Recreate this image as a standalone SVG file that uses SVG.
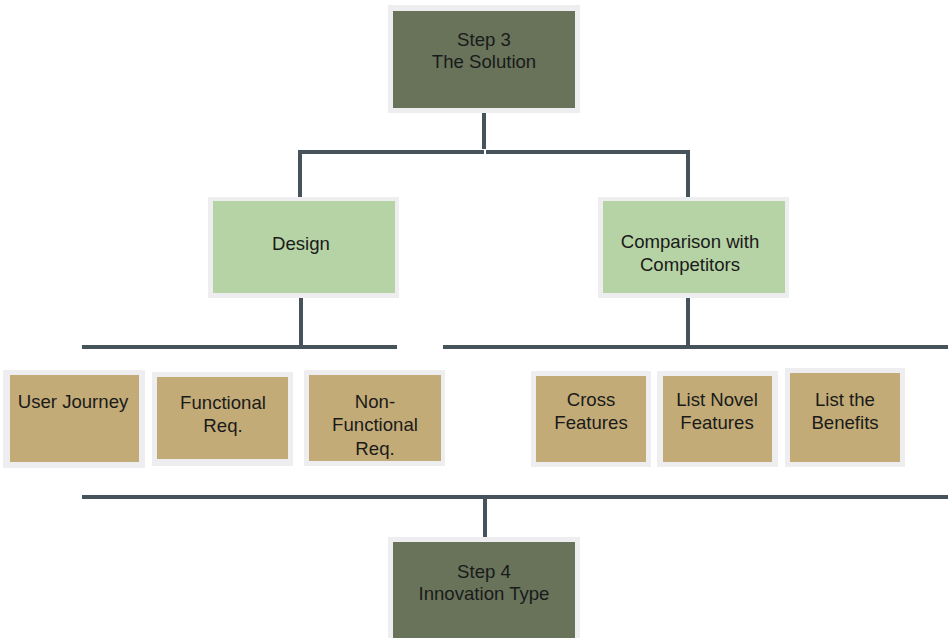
<svg xmlns="http://www.w3.org/2000/svg" width="948" height="638" viewBox="0 0 948 638">
  <style>
    .frame { fill: #eeeef1; }
    .step { fill: #68735a; }
    .branch { fill: #b6d3a6; }
    .task { fill: #c2ab77; }
    .lbl { font-family: "Liberation Sans", Arial, sans-serif; font-size: 18.6px; fill: #1a1a1a; text-anchor: middle; }
    .wire { stroke: #47535a; stroke-width: 4; fill: none; }
  </style>
  <rect width="948" height="638" fill="#ffffff"/>

  <g id="connectors">
    <line class="wire" x1="484" y1="112" x2="484" y2="149"/>
    <line class="wire" x1="298" y1="152" x2="484" y2="152"/>
    <line class="wire" x1="486" y1="152" x2="690" y2="152"/>
    <line class="wire" x1="300" y1="150" x2="300" y2="201"/>
    <line class="wire" x1="688" y1="150" x2="688" y2="201"/>
    <line class="wire" x1="301" y1="293" x2="301" y2="347"/>
    <line class="wire" x1="82" y1="347" x2="397" y2="347"/>
    <line class="wire" x1="688" y1="293" x2="688" y2="347"/>
    <line class="wire" x1="443" y1="347" x2="948" y2="347"/>
    <line class="wire" x1="82" y1="497" x2="948" y2="497"/>
    <line class="wire" x1="485" y1="497" x2="485" y2="543"/>
  </g>

  <g id="step3">
    <rect class="frame" x="388" y="5" width="192" height="108"/>
    <rect class="step" x="393" y="11" width="182" height="97"/>
    <text class="lbl" x="484" y="46">Step 3</text>
    <text class="lbl" x="484" y="68">The Solution</text>
  </g>

  <g id="design">
    <rect class="frame" x="208" y="197" width="191" height="101"/>
    <rect class="branch" x="213" y="201" width="182" height="92"/>
    <text class="lbl" x="301" y="250">Design</text>
  </g>

  <g id="comparison">
    <rect class="frame" x="598" y="197" width="191" height="101"/>
    <rect class="branch" x="603" y="201" width="182" height="92"/>
    <text class="lbl" x="690" y="248">Comparison with</text>
    <text class="lbl" x="690" y="271">Competitors</text>
  </g>

  <g id="user-journey">
    <rect class="frame" x="3" y="370" width="142" height="98"/>
    <rect class="task" x="10" y="375" width="129" height="87"/>
    <text class="lbl" x="73" y="408">User Journey</text>
  </g>

  <g id="functional-req">
    <rect class="frame" x="152" y="372" width="141" height="94"/>
    <rect class="task" x="157" y="377" width="131" height="82"/>
    <text class="lbl" x="223" y="409">Functional</text>
    <text class="lbl" x="223" y="432">Req.</text>
  </g>

  <g id="non-functional-req">
    <rect class="frame" x="304" y="370" width="141" height="96"/>
    <rect class="task" x="309" y="375" width="132" height="86"/>
    <text class="lbl" x="375" y="408">Non-</text>
    <text class="lbl" x="375" y="431">Functional</text>
    <text class="lbl" x="375" y="455">Req.</text>
  </g>

  <g id="cross-features">
    <rect class="frame" x="531" y="371" width="120" height="96"/>
    <rect class="task" x="536" y="376" width="110" height="86"/>
    <text class="lbl" x="591" y="406">Cross</text>
    <text class="lbl" x="591" y="429">Features</text>
  </g>

  <g id="list-novel-features">
    <rect class="frame" x="657" y="371" width="121" height="96"/>
    <rect class="task" x="663" y="376" width="109" height="86"/>
    <text class="lbl" x="717" y="406">List Novel</text>
    <text class="lbl" x="717" y="429">Features</text>
  </g>

  <g id="list-benefits">
    <rect class="frame" x="785" y="368" width="120" height="99"/>
    <rect class="task" x="790" y="373" width="110" height="89"/>
    <text class="lbl" x="845" y="406">List the</text>
    <text class="lbl" x="845" y="429">Benefits</text>
  </g>

  <g id="step4">
    <rect class="frame" x="388" y="537" width="192" height="110"/>
    <rect class="step" x="393" y="542" width="182" height="105"/>
    <text class="lbl" x="484" y="578">Step 4</text>
    <text class="lbl" x="484" y="600">Innovation Type</text>
  </g>
</svg>
